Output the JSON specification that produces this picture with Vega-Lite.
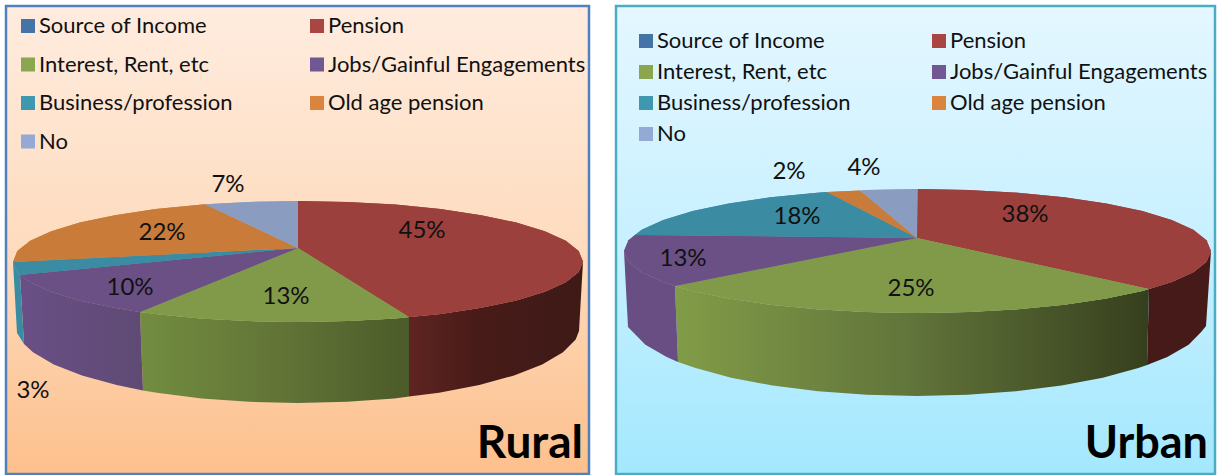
{"$schema":"https://vega.github.io/schema/vega-lite/v6.json","padding":{"left":4,"top":4,"right":0,"bottom":0},"background":"white","spacing":23,
"datasets":{
"ruralTop":[
{"source":"Pension","n":0,"x":298,"y":248},{"source":"Pension","n":1,"x":298,"y":201},{"source":"Pension","n":2,"x":347.5,"y":201.9},{"source":"Pension","n":3,"x":395.5,"y":204.6},{"source":"Pension","n":4,"x":440.5,"y":209.1},{"source":"Pension","n":5,"x":481.2,"y":215.2},{"source":"Pension","n":6,"x":516.3,"y":222.6},{"source":"Pension","n":7,"x":544.8,"y":231.2},{"source":"Pension","n":8,"x":565.8,"y":240.8},{"source":"Pension","n":9,"x":578.7,"y":251},{"source":"Pension","n":10,"x":583,"y":261.5},{"source":"Pension","n":11,"x":578.7,"y":272},{"source":"Pension","n":12,"x":565.8,"y":282.2},{"source":"Pension","n":13,"x":544.8,"y":291.8},{"source":"Pension","n":14,"x":516.3,"y":300.4},{"source":"Pension","n":15,"x":481.2,"y":307.8},{"source":"Pension","n":16,"x":440.5,"y":313.9},{"source":"Pension","n":17,"x":409,"y":317},
{"source":"Interest, Rent, etc","n":0,"x":298,"y":248},{"source":"Interest, Rent, etc","n":1,"x":409,"y":317},{"source":"Interest, Rent, etc","n":2,"x":395.5,"y":318.4},{"source":"Interest, Rent, etc","n":3,"x":347.5,"y":321.1},{"source":"Interest, Rent, etc","n":4,"x":298,"y":322},{"source":"Interest, Rent, etc","n":5,"x":248.5,"y":321.1},{"source":"Interest, Rent, etc","n":6,"x":200.5,"y":318.4},{"source":"Interest, Rent, etc","n":7,"x":155.5,"y":313.9},{"source":"Interest, Rent, etc","n":8,"x":140,"y":312},
{"source":"Jobs/Gainful Engagements","n":0,"x":298,"y":248},{"source":"Jobs/Gainful Engagements","n":1,"x":140,"y":312},{"source":"Jobs/Gainful Engagements","n":2,"x":114.8,"y":307.8},{"source":"Jobs/Gainful Engagements","n":3,"x":79.7,"y":300.4},{"source":"Jobs/Gainful Engagements","n":4,"x":51.2,"y":291.8},{"source":"Jobs/Gainful Engagements","n":5,"x":30.2,"y":282.2},{"source":"Jobs/Gainful Engagements","n":6,"x":20,"y":275},
{"source":"Business/profession","n":0,"x":298,"y":248},{"source":"Business/profession","n":1,"x":20,"y":275},{"source":"Business/profession","n":2,"x":17.3,"y":272},{"source":"Business/profession","n":3,"x":13,"y":262},
{"source":"Old age pension","n":0,"x":298,"y":248},{"source":"Old age pension","n":1,"x":13,"y":262},{"source":"Old age pension","n":2,"x":17.3,"y":251},{"source":"Old age pension","n":3,"x":30.2,"y":240.8},{"source":"Old age pension","n":4,"x":51.2,"y":231.2},{"source":"Old age pension","n":5,"x":79.7,"y":222.6},{"source":"Old age pension","n":6,"x":114.8,"y":215.2},{"source":"Old age pension","n":7,"x":155.5,"y":209.1},{"source":"Old age pension","n":8,"x":205,"y":204.3},
{"source":"No","n":0,"x":298,"y":248},{"source":"No","n":1,"x":205,"y":204.3},{"source":"No","n":2,"x":248.5,"y":201.9},{"source":"No","n":3,"x":298,"y":201}
],
"ruralWall":[
{"source":"Pension","n":0,"x":583,"y":261.5},{"source":"Pension","n":1,"x":578.7,"y":272},{"source":"Pension","n":2,"x":565.8,"y":282.2},{"source":"Pension","n":3,"x":544.8,"y":291.8},{"source":"Pension","n":4,"x":516.3,"y":300.4},{"source":"Pension","n":5,"x":481.2,"y":307.8},{"source":"Pension","n":6,"x":440.5,"y":313.9},{"source":"Pension","n":7,"x":409,"y":317},{"source":"Pension","n":8,"x":409,"y":396.5},{"source":"Pension","n":9,"x":439,"y":392.7},{"source":"Pension","n":10,"x":479.3,"y":385},{"source":"Pension","n":11,"x":514,"y":375.5},{"source":"Pension","n":12,"x":542.2,"y":364.5},{"source":"Pension","n":13,"x":563,"y":352.3},{"source":"Pension","n":14,"x":575.7,"y":339.4},{"source":"Pension","n":15,"x":579,"y":331},
{"source":"Interest, Rent, etc","n":0,"x":409,"y":317},{"source":"Interest, Rent, etc","n":1,"x":395.5,"y":318.4},{"source":"Interest, Rent, etc","n":2,"x":347.5,"y":321.1},{"source":"Interest, Rent, etc","n":3,"x":298,"y":322},{"source":"Interest, Rent, etc","n":4,"x":248.5,"y":321.1},{"source":"Interest, Rent, etc","n":5,"x":200.5,"y":318.4},{"source":"Interest, Rent, etc","n":6,"x":155.5,"y":313.9},{"source":"Interest, Rent, etc","n":7,"x":140,"y":312},{"source":"Interest, Rent, etc","n":8,"x":143,"y":390.5},{"source":"Interest, Rent, etc","n":9,"x":157,"y":392.7},{"source":"Interest, Rent, etc","n":10,"x":201.6,"y":398.4},{"source":"Interest, Rent, etc","n":11,"x":249,"y":401.8},{"source":"Interest, Rent, etc","n":12,"x":298,"y":403},{"source":"Interest, Rent, etc","n":13,"x":347,"y":401.8},{"source":"Interest, Rent, etc","n":14,"x":394.4,"y":398.4},{"source":"Interest, Rent, etc","n":15,"x":409,"y":396.5},
{"source":"Jobs/Gainful Engagements","n":0,"x":140,"y":312},{"source":"Jobs/Gainful Engagements","n":1,"x":114.8,"y":307.8},{"source":"Jobs/Gainful Engagements","n":2,"x":79.7,"y":300.4},{"source":"Jobs/Gainful Engagements","n":3,"x":51.2,"y":291.8},{"source":"Jobs/Gainful Engagements","n":4,"x":30.2,"y":282.2},{"source":"Jobs/Gainful Engagements","n":5,"x":20,"y":275},{"source":"Jobs/Gainful Engagements","n":6,"x":24,"y":344},{"source":"Jobs/Gainful Engagements","n":7,"x":33,"y":352.3},{"source":"Jobs/Gainful Engagements","n":8,"x":53.8,"y":364.5},{"source":"Jobs/Gainful Engagements","n":9,"x":82,"y":375.5},{"source":"Jobs/Gainful Engagements","n":10,"x":116.7,"y":385},{"source":"Jobs/Gainful Engagements","n":11,"x":143,"y":390.5},
{"source":"Business/profession","n":0,"x":20,"y":275},{"source":"Business/profession","n":1,"x":17.3,"y":272},{"source":"Business/profession","n":2,"x":13,"y":262},{"source":"Business/profession","n":3,"x":17,"y":333},{"source":"Business/profession","n":4,"x":24,"y":344}
],
"urbanTop":[
{"source":"Pension","n":0,"x":917,"y":238},{"source":"Pension","n":1,"x":917.5,"y":189},{"source":"Pension","n":2,"x":968.5,"y":189.9},{"source":"Pension","n":3,"x":1017.9,"y":192.7},{"source":"Pension","n":4,"x":1064.3,"y":197.3},{"source":"Pension","n":5,"x":1106.2,"y":203.5},{"source":"Pension","n":6,"x":1142.3,"y":211.1},{"source":"Pension","n":7,"x":1171.7,"y":220},{"source":"Pension","n":8,"x":1193.3,"y":229.8},{"source":"Pension","n":9,"x":1206.5,"y":240.2},{"source":"Pension","n":10,"x":1211,"y":251},{"source":"Pension","n":11,"x":1206.5,"y":261.8},{"source":"Pension","n":12,"x":1193.3,"y":272.2},{"source":"Pension","n":13,"x":1171.7,"y":282},{"source":"Pension","n":14,"x":1149,"y":289},
{"source":"Interest, Rent, etc","n":0,"x":917,"y":238},{"source":"Interest, Rent, etc","n":1,"x":1149,"y":289},{"source":"Interest, Rent, etc","n":2,"x":1142.3,"y":290.9},{"source":"Interest, Rent, etc","n":3,"x":1106.2,"y":298.5},{"source":"Interest, Rent, etc","n":4,"x":1064.3,"y":304.7},{"source":"Interest, Rent, etc","n":5,"x":1017.9,"y":309.3},{"source":"Interest, Rent, etc","n":6,"x":968.5,"y":312.1},{"source":"Interest, Rent, etc","n":7,"x":917.5,"y":313},{"source":"Interest, Rent, etc","n":8,"x":866.5,"y":312.1},{"source":"Interest, Rent, etc","n":9,"x":817.1,"y":309.3},{"source":"Interest, Rent, etc","n":10,"x":770.7,"y":304.7},{"source":"Interest, Rent, etc","n":11,"x":728.8,"y":298.5},{"source":"Interest, Rent, etc","n":12,"x":692.7,"y":290.9},{"source":"Interest, Rent, etc","n":13,"x":675,"y":286},
{"source":"Jobs/Gainful Engagements","n":0,"x":917,"y":238},{"source":"Jobs/Gainful Engagements","n":1,"x":675,"y":286},{"source":"Jobs/Gainful Engagements","n":2,"x":663.3,"y":282},{"source":"Jobs/Gainful Engagements","n":3,"x":641.7,"y":272.2},{"source":"Jobs/Gainful Engagements","n":4,"x":628.5,"y":261.8},{"source":"Jobs/Gainful Engagements","n":5,"x":624,"y":251},{"source":"Jobs/Gainful Engagements","n":6,"x":628.5,"y":240.2},{"source":"Jobs/Gainful Engagements","n":7,"x":635,"y":235},
{"source":"Business/profession","n":0,"x":917,"y":238},{"source":"Business/profession","n":1,"x":635,"y":235},{"source":"Business/profession","n":2,"x":641.7,"y":229.8},{"source":"Business/profession","n":3,"x":663.3,"y":220},{"source":"Business/profession","n":4,"x":692.7,"y":211.1},{"source":"Business/profession","n":5,"x":728.8,"y":203.5},{"source":"Business/profession","n":6,"x":770.7,"y":197.3},{"source":"Business/profession","n":7,"x":817.1,"y":192.7},{"source":"Business/profession","n":8,"x":827,"y":192},
{"source":"Old age pension","n":0,"x":917,"y":238},{"source":"Old age pension","n":1,"x":827,"y":192},{"source":"Old age pension","n":2,"x":860,"y":190.5},
{"source":"No","n":0,"x":917,"y":238},{"source":"No","n":1,"x":860,"y":190.5},{"source":"No","n":2,"x":866.5,"y":189.9},{"source":"No","n":3,"x":917.5,"y":189}
],
"urbanWall":[
{"source":"Pension","n":0,"x":1211,"y":251},{"source":"Pension","n":1,"x":1206.5,"y":261.8},{"source":"Pension","n":2,"x":1193.3,"y":272.2},{"source":"Pension","n":3,"x":1171.7,"y":282},{"source":"Pension","n":4,"x":1149,"y":289},{"source":"Pension","n":5,"x":1147,"y":365},{"source":"Pension","n":6,"x":1167.3,"y":357},{"source":"Pension","n":7,"x":1188.6,"y":344.7},{"source":"Pension","n":8,"x":1201.6,"y":331.5},{"source":"Pension","n":9,"x":1206,"y":326},
{"source":"Interest, Rent, etc","n":0,"x":1149,"y":289},{"source":"Interest, Rent, etc","n":1,"x":1142.3,"y":290.9},{"source":"Interest, Rent, etc","n":2,"x":1106.2,"y":298.5},{"source":"Interest, Rent, etc","n":3,"x":1064.3,"y":304.7},{"source":"Interest, Rent, etc","n":4,"x":1017.9,"y":309.3},{"source":"Interest, Rent, etc","n":5,"x":968.5,"y":312.1},{"source":"Interest, Rent, etc","n":6,"x":917.5,"y":313},{"source":"Interest, Rent, etc","n":7,"x":866.5,"y":312.1},{"source":"Interest, Rent, etc","n":8,"x":817.1,"y":309.3},{"source":"Interest, Rent, etc","n":9,"x":770.7,"y":304.7},{"source":"Interest, Rent, etc","n":10,"x":728.8,"y":298.5},{"source":"Interest, Rent, etc","n":11,"x":692.7,"y":290.9},{"source":"Interest, Rent, etc","n":12,"x":675,"y":286},{"source":"Interest, Rent, etc","n":13,"x":678,"y":362},{"source":"Interest, Rent, etc","n":14,"x":695.6,"y":368.1},{"source":"Interest, Rent, etc","n":15,"x":731.2,"y":377.8},{"source":"Interest, Rent, etc","n":16,"x":772.5,"y":385.5},{"source":"Interest, Rent, etc","n":17,"x":818.2,"y":391.3},{"source":"Interest, Rent, etc","n":18,"x":866.8,"y":394.8},{"source":"Interest, Rent, etc","n":19,"x":917,"y":396},{"source":"Interest, Rent, etc","n":20,"x":967.2,"y":394.8},{"source":"Interest, Rent, etc","n":21,"x":1015.8,"y":391.3},{"source":"Interest, Rent, etc","n":22,"x":1061.5,"y":385.5},{"source":"Interest, Rent, etc","n":23,"x":1102.8,"y":377.8},{"source":"Interest, Rent, etc","n":24,"x":1138.4,"y":368.1},{"source":"Interest, Rent, etc","n":25,"x":1147,"y":365},
{"source":"Jobs/Gainful Engagements","n":0,"x":675,"y":286},{"source":"Jobs/Gainful Engagements","n":1,"x":663.3,"y":282},{"source":"Jobs/Gainful Engagements","n":2,"x":641.7,"y":272.2},{"source":"Jobs/Gainful Engagements","n":3,"x":628.5,"y":261.8},{"source":"Jobs/Gainful Engagements","n":4,"x":624,"y":251},{"source":"Jobs/Gainful Engagements","n":5,"x":628,"y":327},{"source":"Jobs/Gainful Engagements","n":6,"x":632.4,"y":331.5},{"source":"Jobs/Gainful Engagements","n":7,"x":645.4,"y":344.7},{"source":"Jobs/Gainful Engagements","n":8,"x":666.7,"y":357},{"source":"Jobs/Gainful Engagements","n":9,"x":678,"y":362}
],
"ruralLabels":[{"label":"7%","x":228,"y":185},{"label":"22%","x":162,"y":233},{"label":"45%","x":422,"y":231},{"label":"13%","x":286,"y":297},{"label":"10%","x":130,"y":288},{"label":"3%","x":33,"y":391}],
"urbanLabels":[{"label":"2%","x":789,"y":172},{"label":"4%","x":864,"y":168},{"label":"18%","x":797,"y":217},{"label":"38%","x":1025,"y":215},{"label":"25%","x":911,"y":289},{"label":"13%","x":683,"y":259}]
},
"hconcat":[
{"width":583,"height":468,
"view":{"stroke":"#4F81BD","strokeWidth":2.5,"fill":{"gradient":"linear","x1":0,"y1":0,"x2":0,"y2":1,"stops":[{"offset":0,"color":"#FFECDF"},{"offset":0.5,"color":"#FEDCBF"},{"offset":1,"color":"#FDC08D"}]}},
"encoding":{"x":{"field":"x","type":"quantitative","axis":null,"scale":{"domain":[6,589],"zero":false,"nice":false}},"y":{"field":"y","type":"quantitative","axis":null,"scale":{"domain":[474,6],"zero":false,"nice":false}},"order":{"field":"n","type":"quantitative"}},
"resolve":{"scale":{"fill":"independent"}},
"layer":[
{"data":{"name":"ruralWall"},"transform":[{"filter":"datum.source==='Pension'"}],"mark":{"type":"line","strokeWidth":0,"fill":{"gradient":"linear","x1":0,"y1":0,"x2":1,"y2":0,"stops":[{"offset":0,"color":"#5F2421"},{"offset":0.4,"color":"#471B18"},{"offset":1,"color":"#3E1A17"}]}}},
{"data":{"name":"ruralWall"},"transform":[{"filter":"datum.source==='Interest, Rent, etc'"}],"mark":{"type":"line","strokeWidth":0,"fill":{"gradient":"linear","x1":0,"y1":0,"x2":1,"y2":0,"stops":[{"offset":0,"color":"#728D40"},{"offset":0.6,"color":"#5F7035"},{"offset":1,"color":"#4B5B29"}]}}},
{"data":{"name":"ruralWall"},"transform":[{"filter":"datum.source==='Jobs/Gainful Engagements'"}],"mark":{"type":"line","strokeWidth":0,"fill":{"gradient":"linear","x1":0,"y1":0,"x2":1,"y2":0,"stops":[{"offset":0,"color":"#694F86"},{"offset":1,"color":"#5F4A74"}]}}},
{"data":{"name":"ruralWall"},"transform":[{"filter":"datum.source==='Business/profession'"}],"mark":{"type":"line","strokeWidth":0,"fill":"#3A8CA3"}},
{"data":{"name":"ruralTop"},"mark":{"type":"line","strokeWidth":0},"encoding":{"fill":{"field":"source","type":"nominal","sort":null,"scale":{"domain":["Source of Income","Interest, Rent, etc","Business/profession","No","Pension","Jobs/Gainful Engagements","Old age pension"],"range":["#4473A8","#8AA64E","#4097B0","#94A9D3","#A94543","#715893","#DB843D"]},"legend":{"orient":"none","legendX":11,"legendY":9,"columns":2,"title":null,"symbolType":"square","symbolSize":196,"symbolStrokeWidth":0,"labelFont":"Lato","labelFontSize":22,"labelColor":"#111","labelLimit":400,"labelOffset":0,"columnPadding":73,"rowPadding":16.5,"padding":0}}}},
{"data":{"name":"ruralTop"},"mark":{"type":"line","strokeWidth":0},"encoding":{"fill":{"field":"source","type":"nominal","sort":null,"scale":{"domain":["Source of Income","Interest, Rent, etc","Business/profession","No","Pension","Jobs/Gainful Engagements","Old age pension"],"range":["#4473A8","#819A4A","#3B8BA2","#8A9DC0","#9C403E","#6A5085","#C97C39"]},"legend":null}}},
{"data":{"name":"ruralLabels"},"mark":{"type":"text","font":"Lato","fontSize":24,"color":"#111"},"encoding":{"text":{"field":"label","type":"nominal"},"order":{"value":null}}},
{"data":{"values":[{"panel":"Rural","x":583,"y":444}]},"mark":{"type":"text","font":"Lato","fontWeight":"bold","fontSize":46,"align":"right","color":"#000"},"encoding":{"text":{"field":"panel","type":"nominal"},"order":{"value":null}}}
]},
{"width":599,"height":468,
"view":{"stroke":"#4BACC6","strokeWidth":2.5,"fill":{"gradient":"linear","x1":0,"y1":0,"x2":0,"y2":1,"stops":[{"offset":0,"color":"#E4F7FF"},{"offset":0.5,"color":"#C8F0FF"},{"offset":1,"color":"#A4E8FE"}]}},
"encoding":{"x":{"field":"x","type":"quantitative","axis":null,"scale":{"domain":[616,1215],"zero":false,"nice":false}},"y":{"field":"y","type":"quantitative","axis":null,"scale":{"domain":[474,6],"zero":false,"nice":false}},"order":{"field":"n","type":"quantitative"}},
"resolve":{"scale":{"fill":"independent"}},
"layer":[
{"data":{"name":"urbanWall"},"transform":[{"filter":"datum.source==='Pension'"}],"mark":{"type":"line","strokeWidth":0,"fill":"#451A18"}},
{"data":{"name":"urbanWall"},"transform":[{"filter":"datum.source==='Interest, Rent, etc'"}],"mark":{"type":"line","strokeWidth":0,"fill":{"gradient":"linear","x1":0,"y1":0,"x2":1,"y2":0,"stops":[{"offset":0,"color":"#819C48"},{"offset":0.5,"color":"#61743A"},{"offset":1,"color":"#363F1D"}]}}},
{"data":{"name":"urbanWall"},"transform":[{"filter":"datum.source==='Jobs/Gainful Engagements'"}],"mark":{"type":"line","strokeWidth":0,"fill":"#684E82"}},
{"data":{"name":"urbanTop"},"mark":{"type":"line","strokeWidth":0},"encoding":{"fill":{"field":"source","type":"nominal","sort":null,"scale":{"domain":["Source of Income","Interest, Rent, etc","Business/profession","No","Pension","Jobs/Gainful Engagements","Old age pension"],"range":["#4473A8","#8AA64E","#4097B0","#94A9D3","#A94543","#715893","#DB843D"]},"legend":{"orient":"none","legendX":19,"legendY":24,"columns":2,"title":null,"symbolType":"square","symbolSize":196,"symbolStrokeWidth":0,"labelFont":"Lato","labelFontSize":22,"labelColor":"#111","labelLimit":400,"labelOffset":0,"columnPadding":77,"rowPadding":9,"padding":0}}}},
{"data":{"name":"urbanTop"},"mark":{"type":"line","strokeWidth":0},"encoding":{"fill":{"field":"source","type":"nominal","sort":null,"scale":{"domain":["Source of Income","Interest, Rent, etc","Business/profession","No","Pension","Jobs/Gainful Engagements","Old age pension"],"range":["#4473A8","#819A4A","#3B8BA2","#8A9DC0","#9C403E","#6A5085","#C97C39"]},"legend":null}}},
{"data":{"name":"urbanLabels"},"mark":{"type":"text","font":"Lato","fontSize":24,"color":"#111"},"encoding":{"text":{"field":"label","type":"nominal"},"order":{"value":null}}},
{"data":{"values":[{"panel":"Urban","x":1208,"y":444}]},"mark":{"type":"text","font":"Lato","fontWeight":"bold","fontSize":45,"align":"right","color":"#000"},"encoding":{"text":{"field":"panel","type":"nominal"},"order":{"value":null}}}
]}
]}
